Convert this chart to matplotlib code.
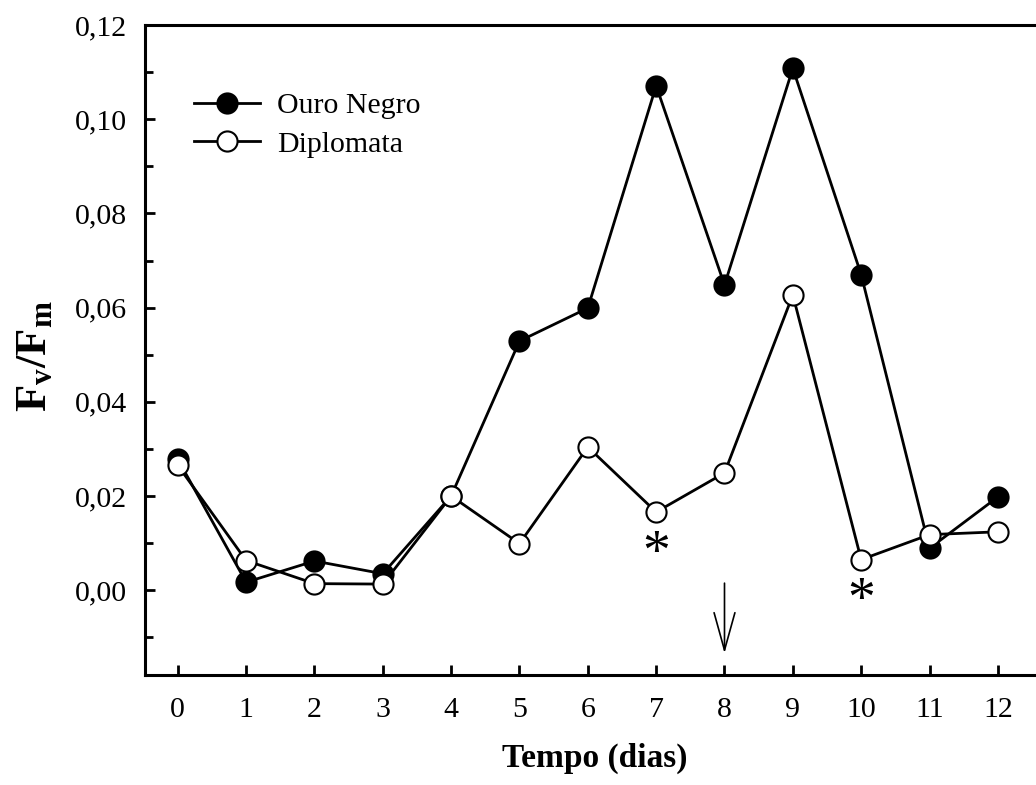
import matplotlib
matplotlib.use('Agg')
import matplotlib.pyplot as plt
from matplotlib.ticker import MultipleLocator, FuncFormatter

plt.rcParams['font.family'] = ['Liberation Serif', 'DejaVu Serif']
plt.rcParams['mathtext.fontset'] = 'custom'
plt.rcParams['mathtext.rm'] = 'Liberation Serif'
plt.rcParams['mathtext.bf'] = 'Liberation Serif:bold'
plt.rcParams['mathtext.it'] = 'Liberation Serif:italic'

# dados
dias = [0, 1, 2, 3, 4, 5, 6, 7, 8, 9, 10, 11, 12]
ouro_negro = [0.0278, 0.0017, 0.0062, 0.0035, 0.0200, 0.0529, 0.0599,
              0.1071, 0.0648, 0.1108, 0.0670, 0.0089, 0.0198]
diplomata = [0.0265, 0.0063, 0.0014, 0.0013, 0.0200, 0.0099, 0.0304,
             0.0166, 0.0249, 0.0627, 0.0065, 0.0118, 0.0124]
asterisco_x = [7, 10]
asterisco_y = [0.0074, -0.0024]
seta_x = 8

fig = plt.figure(figsize=(10.36, 7.85), dpi=100)
ax = fig.add_axes([145 / 1036, 1 - 675 / 785, 900 / 1036, 650 / 785])

ax.plot(dias, ouro_negro, '-o', color='black', lw=2.0, ms=14.5,
        mfc='black', mec='black', mew=1.5, label='Ouro Negro', zorder=3)
ax.plot(dias, diplomata, '-o', color='black', lw=2.0, ms=14.5,
        mfc='white', mec='black', mew=1.5, label='Diplomata', zorder=4)

for x, y in zip(asterisco_x, asterisco_y):
    ax.text(x, y, '*', fontsize=40, ha='center', va='center')

ax.annotate('', xy=(seta_x, -0.0134), xytext=(seta_x, 0.0015),
            arrowprops=dict(arrowstyle='->,head_length=2.7,head_width=0.75',
                            lw=1.2, color='black', shrinkA=0, shrinkB=0))

ax.set_xlim(-0.48, 12.69)
ax.set_ylim(-0.018, 0.12)
ax.set_xticks(dias)
ax.yaxis.set_major_locator(MultipleLocator(0.02))
ax.yaxis.set_minor_locator(MultipleLocator(0.01))
ax.yaxis.set_major_formatter(FuncFormatter(lambda v, p: ('%.2f' % v).replace('.', ',').replace('-0,00', '0,00')))

ax.spines['right'].set_visible(False)
for s in ['left', 'bottom', 'top']:
    ax.spines[s].set_linewidth(2.2)

ax.tick_params(axis='both', which='major', direction='in', length=7.5, width=2,
               labelsize=21.5)
ax.tick_params(axis='y', which='minor', direction='in', length=6, width=2)
ax.tick_params(axis='y', which='major', pad=13)
ax.tick_params(axis='x', which='major', pad=16)
ax.tick_params(top=False, right=False)

ax.set_xlabel('Tempo (dias)', fontsize=24, fontweight='bold', labelpad=14)
ax.set_ylabel(r'$\mathbf{F_v/F_m}$', fontsize=32, labelpad=16)
ax.yaxis.set_label_coords(-0.1, 0.49)

leg = ax.legend(loc='upper left', bbox_to_anchor=(0.041, 0.915), frameon=False,
                fontsize=21.5, handlelength=2.2, handletextpad=0.6,
                labelspacing=0.4, borderaxespad=0)

fig.savefig('out.png', dpi=100)
